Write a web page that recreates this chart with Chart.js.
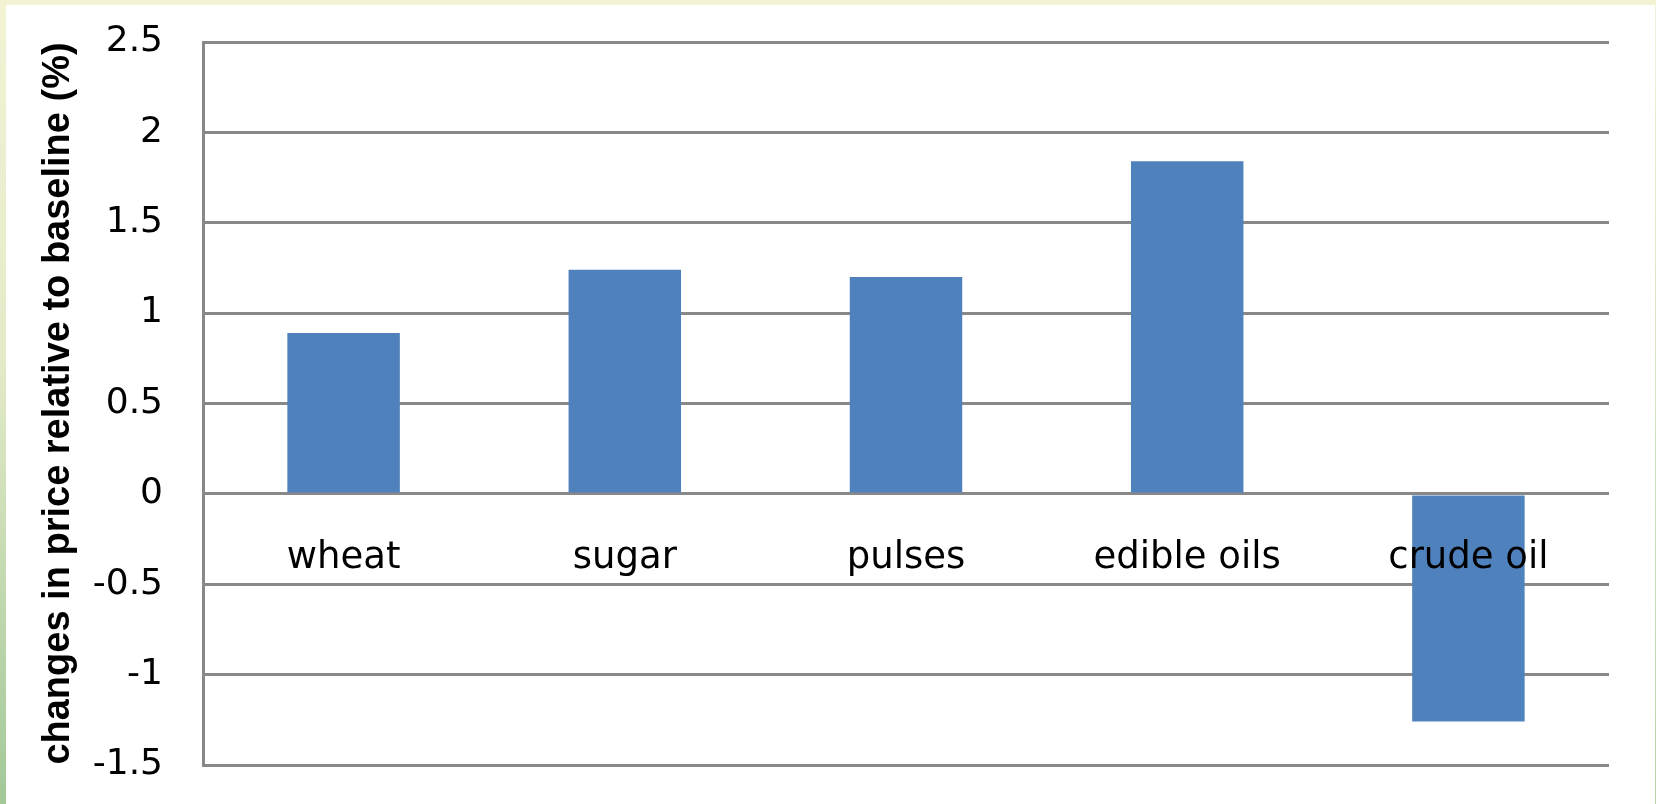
<!DOCTYPE html>
<html>
<head>
<meta charset="utf-8">
<title>changes in price relative to baseline</title>
<script src="https://cdn.jsdelivr.net/npm/chart.js@4/dist/chart.umd.min.js"></script>
<style>
  html, body { margin: 0; padding: 0; background: #ffffff; }
  .frame { position: relative; width: 1656px; height: 804px; overflow: hidden; background: #ffffff; }
  .frame canvas { position: absolute; left: 0; top: 0; }
  .edge-top { position: absolute; left: 0; top: 0; width: 1656px; height: 5px; background: #f3f3d4; }
  .edge-left { position: absolute; left: 0; top: 0; width: 6px; height: 804px; background: linear-gradient(#f3f3d4, #e3eac8 45%, #a2c898); }
  .edge-right { position: absolute; right: 0; top: 5px; width: 1px; height: 799px; background: linear-gradient(#eef2d8, #b8d4a8); }
</style>
</head>
<body>
<div class="frame">
  <canvas id="price-chart" width="1656" height="804"></canvas>
  <div class="edge-top"></div>
  <div class="edge-left"></div>
  <div class="edge-right"></div>
</div>
<script>
const categories = ['wheat', 'sugar', 'pulses', 'edible oils', 'crude oil'];
const priceChange = [0.89, 1.24, 1.2, 1.84, -1.26];
const yTicks = [-1.5, -1, -0.5, 0, 0.5, 1, 1.5, 2, 2.5];
const yTickLabels = ['-1.5', '-1', '-0.5', '0', '0.5', '1', '1.5', '2', '2.5'];
const yTitle = 'changes in price relative to baseline (%)';

const barColor = '#4f81bd';
const gridColor = '#888888';
const labelFont = 'DejaVu Sans, Verdana, sans-serif';
const titleFont = '"Liberation Sans", Arial, sans-serif';

const init = () => {
  const ctx = document.getElementById('price-chart');
  if (!ctx) return;

  new Chart(ctx, {
    type: 'bar',
    data: {
      labels: categories,
      datasets: [{
        data: priceChange,
        backgroundColor: barColor,
        borderWidth: 0,
        categoryPercentage: 1,
        barPercentage: 0.4,
      }],
    },
    options: {
      responsive: false,
      animation: false,
      layout: { padding: { left: 0, top: 42, right: 47, bottom: 39 } },
      plugins: {
        legend: { display: false },
        tooltip: { enabled: false },
      },
      scales: {
        x: {
          type: 'category',
          position: { y: 0 },
          grid: { display: false },
          border: { display: false },
          ticks: {
            z: 1,
            color: '#000000',
            padding: 34,
            font: { family: labelFont, size: 37 },
            maxRotation: 0,
            autoSkip: false,
          },
          // labels sit on the zero line, so the axis takes no room at the bottom
          afterFit: (scale) => { scale.height = 0; },
        },
        y: {
          min: yTicks[0],
          max: yTicks[yTicks.length - 1],
          afterBuildTicks: (scale) => {
            scale.ticks = yTicks.map((value) => ({ value }));
          },
          afterFit: (scale) => {
            scale.width = 203;
            scale.paddingTop = 0;
            scale.paddingBottom = 0;
          },
          grid: { color: gridColor, lineWidth: 3, drawTicks: false },
          border: { color: gridColor, width: 3 },
          ticks: {
            color: '#000000',
            padding: 40,
            font: { family: labelFont, size: 36 },
            callback: (value, index) => yTickLabels[index],
          },
          title: {
            display: true,
            text: yTitle,
            color: '#000000',
            padding: { top: 36, bottom: 0 },
            font: { family: titleFont, size: 38, weight: 'bold' },
          },
        },
      },
    },
  });
};

document.addEventListener('DOMContentLoaded', init);
</script>
</body>
</html>
